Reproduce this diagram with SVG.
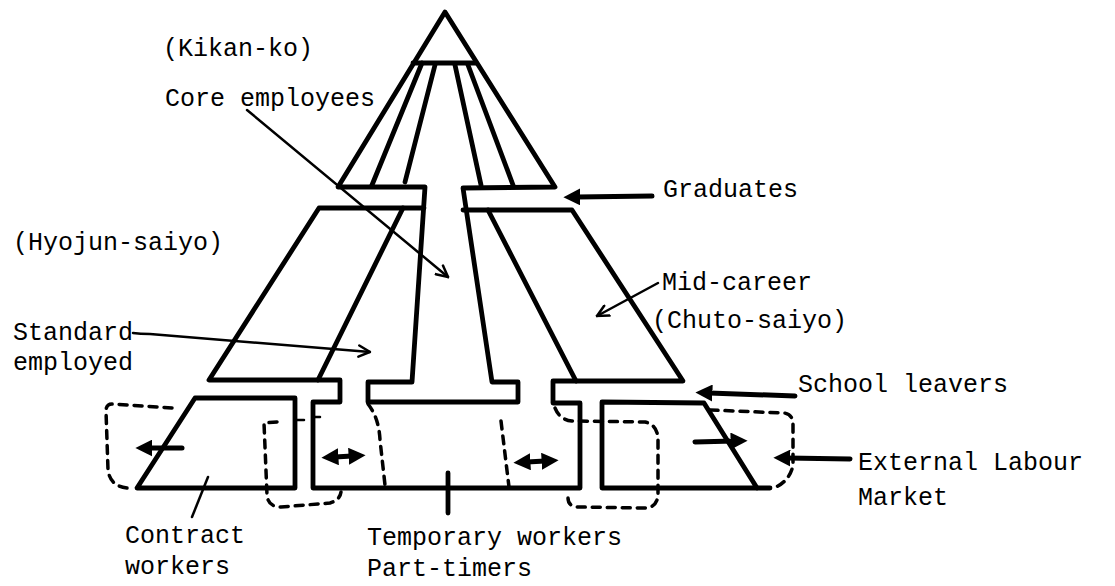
<svg xmlns="http://www.w3.org/2000/svg" width="1115" height="586" viewBox="0 0 1115 586">
<style>
.s{fill:none;stroke:#000;stroke-width:4.8;stroke-linejoin:round;stroke-linecap:round}
.t{fill:none;stroke:#000;stroke-width:2.5;stroke-linecap:round}
.a{fill:none;stroke:#000;stroke-width:5;stroke-linecap:round}
.d{fill:none;stroke:#000;stroke-width:3.5;stroke-dasharray:8 7;stroke-linecap:round}
text{font-family:"Liberation Mono","DejaVu Sans Mono",monospace;font-size:25px;fill:#000}
</style>
<defs>
<marker id="fh" viewBox="0 0 10 10" refX="2" refY="5" markerWidth="17" markerHeight="17" markerUnits="userSpaceOnUse" orient="auto-start-reverse"><path d="M0,0 L10,5 L0,10 z" fill="#000"/></marker>
<marker id="oh" viewBox="0 0 10 10" refX="9" refY="5" markerWidth="14" markerHeight="14" markerUnits="userSpaceOnUse" orient="auto"><path d="M1,1 L9,5 L1,9" fill="none" stroke="#000" stroke-width="1.8" stroke-linecap="round"/></marker>
</defs>
<g id="structure">
<g id="core">
<path class="s" d="M338,187 L445,12 L555,187 L463,188 L492,382 L518,382 L518,402 L368,402 L368,382 L412,382 L425,187 Z"/>
<path class="s" d="M413,63 L476,63"/>
<path class="s" d="M422,63 L372,185 M435,65 L405,182 M455,65 L481,185 M468,65 L513,185"/>
</g>
<g id="middle">
<path class="s" d="M424,208 L319,208 L209,380 L340,380 L340,402 L313,402 L313,488 L580,488 L580,403 L553,403 L553,381 L683,381 L572,210 L463,210"/>
<path class="s" d="M403,208 L318,380 M488,210 L576,381"/>
</g>
<g id="contract">
<path class="s" d="M195,398 L295,398 L295,488 L137,488 Z"/>
<path class="t" d="M295,420 L304,420"/>
</g>
<g id="temporary">
<path class="t" d="M313,417 L320,417"/>
</g>
<g id="external">
<path class="s" d="M602,402 L704,403 L757,488 L602,488 Z"/>
<path class="s" d="M757,488 L770,488"/>
</g>
</g>
<g id="connectors">
<path class="a" d="M652,196 L577,197" marker-end="url(#fh)"/>
<path class="a" d="M795,396 L709,393" marker-end="url(#fh)"/>
<path class="a" d="M850,459 L787,458" marker-end="url(#fh)"/>
<path class="a" d="M695,442 L734,441" marker-end="url(#fh)"/>
<path class="a" d="M182,448 L149,448" marker-end="url(#fh)"/>
<path class="a" d="M335,457 L352,456" marker-start="url(#fh)" marker-end="url(#fh)"/>
<path class="a" d="M527,462 L545,461" marker-start="url(#fh)" marker-end="url(#fh)"/>
<path class="t" d="M247,110 L448,277" marker-end="url(#oh)"/>
<path class="t" d="M133,333 Q140,334 150,334 L370,352" marker-end="url(#oh)"/>
<path class="t" d="M658,283 L597,316" marker-end="url(#oh)"/>
<path class="t" d="M192,517 L208,477"/>
<path class="s" d="M448,513 L448,473"/>
<path class="d" d="M172,408 L112,404 Q106,404 106,411 L108,470 Q110,486 127,488"/>
<path class="d" d="M277,422 L264,423 L267,495 Q268,507 281,507 L330,503 Q340,500 341,492"/>
<path class="d" d="M368,404 Q379,418 380,440 L385,485"/>
<path class="d" d="M501,421 L509,487"/>
<path class="d" d="M555,408 Q560,420 572,421 L645,422 Q658,425 658,440 L658,495 Q657,508 644,508 L577,507 Q568,506 568,498"/>
<path class="d" d="M710,410 L784,413 Q793,414 793,425 L793,465 Q790,481 774,488"/>
</g>
<g id="labels">
<text x="163" y="56">(Kikan-ko)</text>
<text x="165" y="106">Core employees</text>
<text x="13" y="250">(Hyojun-saiyo)</text>
<text x="13" y="340">Standard</text>
<text x="13" y="370">employed</text>
<text x="663" y="197">Graduates</text>
<text x="662" y="290">Mid-career</text>
<text x="652" y="328">(Chuto-saiyo)</text>
<text x="798" y="392">School leavers</text>
<text x="858" y="470">External Labour</text>
<text x="858" y="505">Market</text>
<text x="125" y="543">Contract</text>
<text x="125" y="574">workers</text>
<text x="367" y="545">Temporary workers</text>
<text x="367" y="576">Part-timers</text>
</g>
</svg>
